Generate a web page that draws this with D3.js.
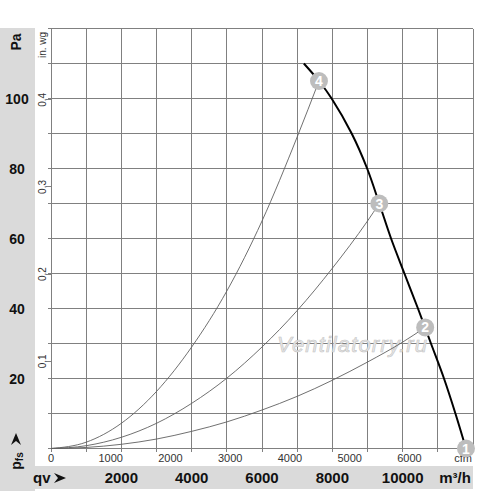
<!DOCTYPE html>
<html>
<head>
<meta charset="utf-8">
<script src="https://cdn.jsdelivr.net/npm/d3@7"></script>
<style>
  body { margin: 0; background: #fff; }
  svg { display: block; font-family: "Liberation Sans", Arial, sans-serif; }
</style>
</head>
<body>
<div id="chart"></div>
<script>
var w = 500;
var h = 491;

// fan curve, m3/h vs Pa
var fanFlow = [7190, 7620, 7980, 8550, 8990, 9335, 9670, 10050, 10435, 10805, 11175, 11500, 11800];
var fanPressure = [110, 105, 100, 90, 80, 70, 60, 50, 40, 30, 20, 10, 0];

// system curves (m3/h, Pa)
var sys4Flow = [0, 1000, 2000, 3000, 4000, 5000, 6000, 7000, 7620];
var sys4Pressure = [0, 1.8, 7.2, 16.3, 29, 45, 65, 89, 105];
var sys3Flow = [0, 1000, 2000, 3000, 4000, 5000, 6000, 7000, 8000, 9000, 9335];
var sys3Pressure = [0, 0.8, 3.2, 7.2, 12.9, 20.1, 29, 39.4, 51.5, 65, 70];
var sys2Flow = [0, 1000, 2000, 3000, 4000, 5000, 6000, 7000, 8000, 9000, 10000, 10640];
var sys2Pressure = [0, 0.3, 1.2, 2.7, 4.9, 7.6, 11, 14.9, 19.5, 24.7, 30.4, 34.6];

// operating points
var pointLabels = ["1", "2", "3", "4"];
var pointFlow = [11800, 10640, 9335, 7620];
var pointPressure = [0, 34.6, 70, 105];

var paTicks = [20, 40, 60, 80, 100];
var inwgTicks = [0.1, 0.2, 0.3, 0.4];
var cfmTicks = [0, 1000, 2000, 3000, 4000, 5000, 6000];
var m3hTicks = [2000, 4000, 6000, 8000, 10000];

var plotLeft = 51, plotRight = 473, plotTop = 28.5, plotBottom = 448.5;

var xScale = d3.scaleLinear().domain([0, 12000]).range([plotLeft, plotRight]);
var yScale = d3.scaleLinear().domain([0, 120]).range([plotBottom, plotTop]);
var cfmScale = d3.scaleLinear().domain([0, 12000 / 1.699]).range([plotLeft, plotRight]);
var inwgScale = d3.scaleLinear().domain([0, 120 / 249.09]).range([plotBottom, plotTop]);

var svg = d3.select("#chart").append("svg").attr("width", w).attr("height", h);

// gray bands
svg.append("rect").attr("x", 0).attr("y", 28).attr("width", 35).attr("height", 463).attr("fill", "#dadada");
svg.append("rect").attr("x", 0).attr("y", 466).attr("width", 473).attr("height", 23).attr("fill", "#dadada");

// grid
var gridColor = "#808080";
svg.append("g")
  .attr("shape-rendering", "crispEdges")
  .selectAll("line")
  .data(d3.range(0, 12001, 1000))
  .enter()
  .append("line")
  .attr("x1", function (d) { return xScale(d); })
  .attr("x2", function (d) { return xScale(d); })
  .attr("y1", plotTop)
  .attr("y2", plotBottom + 3)
  .attr("stroke", gridColor)
  .attr("stroke-width", 1);

svg.append("g")
  .attr("shape-rendering", "crispEdges")
  .selectAll("line")
  .data(d3.range(0, 121, 10))
  .enter()
  .append("line")
  .attr("x1", plotLeft - 3)
  .attr("x2", plotRight)
  .attr("y1", function (d) { return yScale(d); })
  .attr("y2", function (d) { return yScale(d); })
  .attr("stroke", gridColor)
  .attr("stroke-width", 1);

// in. wg ticks
svg.append("g")
  .attr("shape-rendering", "crispEdges")
  .selectAll("line")
  .data(inwgTicks)
  .enter()
  .append("line")
  .attr("x1", plotLeft - 5)
  .attr("x2", plotLeft)
  .attr("y1", function (d) { return inwgScale(d); })
  .attr("y2", function (d) { return inwgScale(d); })
  .attr("stroke", gridColor);

svg.append("g")
  .selectAll("text")
  .data(inwgTicks)
  .enter()
  .append("text")
  .attr("transform", function (d) { return "translate(46," + inwgScale(d) + ") rotate(-90)"; })
  .attr("text-anchor", "middle")
  .attr("font-size", 10)
  .attr("fill", "#333")
  .text(function (d) { return d; });

svg.append("text")
  .attr("transform", "translate(46,45) rotate(-90)")
  .attr("text-anchor", "middle")
  .attr("font-size", 10)
  .attr("fill", "#333")
  .text("in. wg");

// Pa labels
svg.append("g")
  .selectAll("text")
  .data(paTicks)
  .enter()
  .append("text")
  .attr("x", 17)
  .attr("y", function (d) { return yScale(d) + 5; })
  .attr("text-anchor", "middle")
  .attr("font-size", 14)
  .attr("font-weight", "bold")
  .attr("fill", "#111")
  .text(function (d) { return d; });

svg.append("text")
  .attr("transform", "translate(21,42) rotate(-90)")
  .attr("text-anchor", "middle")
  .attr("font-size", 14)
  .attr("font-weight", "bold")
  .attr("fill", "#111")
  .text("Pa");

var pfs = svg.append("text")
  .attr("transform", "translate(21,461) rotate(-90)")
  .attr("text-anchor", "middle")
  .attr("font-size", 14)
  .attr("font-weight", "bold")
  .attr("fill", "#111");
pfs.append("tspan").text("p");
pfs.append("tspan").attr("font-size", 10).attr("dy", 2).text("fs");

svg.append("path")
  .attr("d", "M16,433 L21,445 L16,441 L11,445 Z")
  .attr("fill", "#111");

// cfm labels
svg.append("g")
  .selectAll("text")
  .data(cfmTicks)
  .enter()
  .append("text")
  .attr("x", function (d) { return cfmScale(d); })
  .attr("y", 462)
  .attr("text-anchor", "middle")
  .attr("font-size", 11)
  .attr("fill", "#333")
  .text(function (d) { return d; });

svg.append("text")
  .attr("x", 463)
  .attr("y", 462)
  .attr("text-anchor", "middle")
  .attr("font-size", 11)
  .attr("fill", "#333")
  .text("cfm");

// m3/h labels
svg.append("g")
  .selectAll("text")
  .data(m3hTicks)
  .enter()
  .append("text")
  .attr("x", function (d) { return xScale(d); })
  .attr("y", 483)
  .attr("text-anchor", "middle")
  .attr("font-size", 15)
  .attr("font-weight", "bold")
  .attr("fill", "#111")
  .text(function (d) { return d; });

svg.append("text")
  .attr("x", 455)
  .attr("y", 483)
  .attr("text-anchor", "middle")
  .attr("font-size", 15)
  .attr("font-weight", "bold")
  .attr("fill", "#111")
  .text("m³/h");

svg.append("text")
  .attr("x", 33)
  .attr("y", 483)
  .attr("font-size", 15)
  .attr("font-weight", "bold")
  .attr("fill", "#111")
  .text("qv");

svg.append("path")
  .attr("d", "M54,473 L66,478 L54,483 L58,478 Z")
  .attr("fill", "#111");

// watermark
svg.append("text")
  .attr("x", 277)
  .attr("y", 352)
  .attr("font-size", 22)
  .attr("font-style", "italic")
  .attr("fill", "#e8e8e8")
  .attr("stroke", "#c4c4c4")
  .attr("stroke-width", 0.6)
  .attr("textLength", 150)
  .text("Ventilatorry.ru");

// system curves
var line = d3
  .line()
  .x(function (d) { return xScale(d[0]); })
  .y(function (d) { return yScale(d[1]); })
  .curve(d3.curveMonotoneX);

var systems = [
  d3.zip(sys2Flow, sys2Pressure),
  d3.zip(sys3Flow, sys3Pressure),
  d3.zip(sys4Flow, sys4Pressure)
];

svg.append("g")
  .selectAll("path")
  .data(systems)
  .enter()
  .append("path")
  .attr("d", line)
  .attr("fill", "none")
  .attr("stroke", "#606060")
  .attr("stroke-width", 0.9);

// fan curve
var fanLine = d3
  .line()
  .x(function (d) { return xScale(d[0]); })
  .y(function (d) { return yScale(d[1]); })
  .curve(d3.curveCatmullRom);

svg.append("path")
  .datum(d3.zip(fanFlow, fanPressure))
  .attr("d", fanLine)
  .attr("fill", "none")
  .attr("stroke", "#000")
  .attr("stroke-width", 2);

// operating point markers
var markers = svg.append("g")
  .selectAll("g")
  .data(d3.range(pointLabels.length))
  .enter()
  .append("g")
  .attr("transform", function (i) {
    return "translate(" + xScale(pointFlow[i]) + "," + yScale(pointPressure[i]) + ")";
  });

markers.append("circle").attr("r", 9).attr("fill", "#bdbdbd");
markers.append("text")
  .attr("y", 5)
  .attr("text-anchor", "middle")
  .attr("font-size", 14)
  .attr("font-weight", "bold")
  .attr("fill", "#fff")
  .text(function (i) { return pointLabels[i]; });
</script>
</body>
</html>
